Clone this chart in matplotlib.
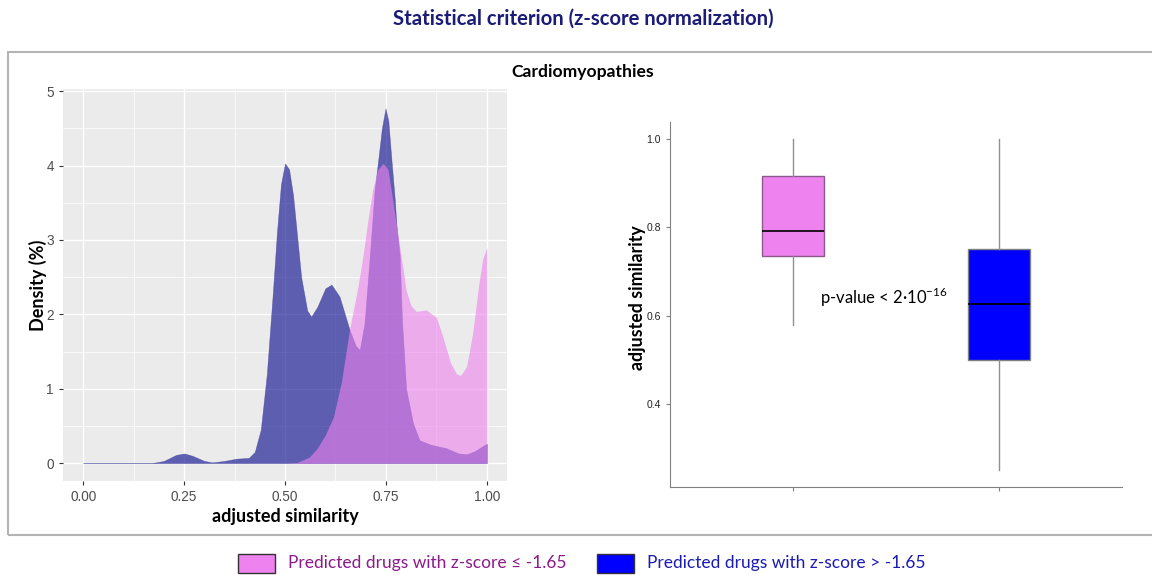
import matplotlib
matplotlib.use("Agg")
import matplotlib.pyplot as plt
from matplotlib.patches import Rectangle

plt.rcParams['font.family'] = ['Lato', 'DejaVu Sans']
plt.rcParams['mathtext.fontset'] = 'custom'
plt.rcParams['mathtext.rm'] = 'Lato'

# densites
x_blue = [0.00, 0.17, 0.20, 0.23, 0.25, 0.27, 0.30, 0.32, 0.35, 0.38, 0.41, 0.425, 0.44, 0.455,
          0.47, 0.48, 0.49, 0.50, 0.51, 0.52, 0.53, 0.54, 0.555, 0.565, 0.58, 0.60, 0.615, 0.635,
          0.66, 0.675, 0.685, 0.697, 0.71, 0.722, 0.73, 0.74, 0.749, 0.756, 0.763, 0.772, 0.776,
          0.784, 0.79, 0.80, 0.817, 0.833, 0.86, 0.90, 0.93, 0.95, 0.97, 0.99, 1.00]
y_blue = [0, 0, 0.03, 0.11, 0.13, 0.10, 0.03, 0.01, 0.03, 0.06, 0.07, 0.15, 0.45, 1.2,
          2.3, 3.1, 3.75, 4.03, 3.95, 3.6, 3.05, 2.5, 2.05, 1.97, 2.1, 2.35, 2.4, 2.24,
          1.79, 1.58, 1.52, 1.88, 2.78, 3.67, 4.03, 4.5, 4.77, 4.6, 4.12, 3.54, 3.2,
          2.8, 1.9, 1.0, 0.54, 0.31, 0.25, 0.2, 0.13, 0.12, 0.16, 0.23, 0.26]

x_pink = [0.00, 0.50, 0.53, 0.56, 0.58, 0.60, 0.62, 0.64, 0.66, 0.68, 0.693, 0.705, 0.717,
          0.73, 0.743, 0.755, 0.765, 0.776, 0.79, 0.80, 0.812, 0.825, 0.85, 0.875, 0.89, 0.91,
          0.925, 0.935, 0.95, 0.965, 0.98, 0.99, 1.00]
y_pink = [0, 0, 0.01, 0.08, 0.2, 0.38, 0.62, 1.1, 1.8, 2.35, 2.78, 3.25, 3.67,
          3.95, 4.03, 3.95, 3.6, 3.2, 2.7, 2.33, 2.12, 2.04, 2.06, 1.96, 1.72, 1.35,
          1.2, 1.18, 1.3, 1.75, 2.4, 2.75, 2.9]

# boxplot
groupes = ["z-score <= -1.65", "z-score > -1.65"]
whislo = [0.578, 0.25]
q1 = [0.735, 0.50]
med = [0.792, 0.626]
q3 = [0.915, 0.75]
whishi = [1.0, 1.0]

pink = "#EE82EE"
blue_dens = "#00008B"
blue_box = "#0000FF"

fig = plt.figure(figsize=(11.52, 5.75), dpi=100)

fig.text(0.506, 0.968, "Statistical criterion (z-score normalization)", ha="center", va="center",
         fontsize=14.6, fontweight="bold", color="#1B1B78")
fig.patches.append(Rectangle((0.0069, 0.0696), 1.0, 0.84, transform=fig.transFigure,
                             fill=False, edgecolor="#b4b4b4", lw=1.5))
fig.text(0.506, 0.875, "Cardiomyopathies", ha="center", va="center", fontsize=12.6, fontweight="bold")

# ---- densite (style ggplot)
ax1 = fig.add_axes([0.0547, 0.1635, 0.3854, 0.6817])
ax1.set_facecolor("#EBEBEB")
ax1.fill_between(x_blue, y_blue, color=blue_dens, alpha=0.6, lw=0.4, edgecolor="#3a3a9a")
ax1.fill_between(x_pink, y_pink, color=pink, alpha=0.6, lw=0)
ax1.set_xlim(-0.05, 1.05)
ax1.set_ylim(-0.24, 5.03)
ax1.set_xticks([0, 0.25, 0.5, 0.75, 1.0])
ax1.set_xticklabels(["0.00", "0.25", "0.50", "0.75", "1.00"])
ax1.set_yticks([0, 1, 2, 3, 4, 5])
ax1.set_xticks([0.125, 0.375, 0.625, 0.875], minor=True)
ax1.set_yticks([0.5, 1.5, 2.5, 3.5, 4.5], minor=True)
ax1.grid(True, which="major", color="white", lw=1.0)
ax1.grid(True, which="minor", color="white", lw=0.5)
ax1.set_axisbelow(True)
for s in ax1.spines.values():
    s.set_visible(False)
ax1.tick_params(which="major", length=3, color="#333333", labelcolor="#4D4D4D", labelsize=9.8)
ax1.tick_params(which="minor", length=0)
for lab in ax1.get_xticklabels() + ax1.get_yticklabels():
    lab.set_family("Liberation Sans")
ax1.set_xlabel("adjusted similarity", fontsize=13, fontweight="bold", labelpad=3)
ax1.set_ylabel("Density (%)", fontsize=13, fontweight="bold")
ax1.yaxis.set_label_coords(-0.036, 0.5)

# ---- boxplot
ax2 = fig.add_axes([0.5816, 0.153, 0.3924, 0.6348])
stats = []
for i in range(len(groupes)):
    stats.append({"label": groupes[i], "whislo": whislo[i], "q1": q1[i], "med": med[i],
                  "q3": q3[i], "whishi": whishi[i]})
bp = ax2.bxp(stats, positions=[1, 2], widths=0.3, patch_artist=True, showfliers=False,
             showcaps=False,
             medianprops=dict(color="black", lw=1.2),
             whiskerprops=dict(color="#909090", lw=1),
             boxprops=dict(edgecolor="#707070", lw=1))
bp["boxes"][0].set_facecolor(pink)
bp["boxes"][0].set_edgecolor("#8a5a8a")
bp["boxes"][1].set_facecolor(blue_box)
bp["boxes"][1].set_edgecolor("#808080")
ax2.set_xlim(0.4, 2.6)
ax2.set_ylim(0.2125, 1.0375)
ax2.set_yticks([0.4, 0.6, 0.8, 1.0])
ax2.set_yticklabels(["0.4", "0.6", "0.8", "1.0"])
ax2.set_xticks([1, 2])
ax2.set_xticklabels(["", ""])
ax2.spines["top"].set_visible(False)
ax2.spines["right"].set_visible(False)
ax2.spines["left"].set_color("#808080")
ax2.spines["bottom"].set_color("#808080")
ax2.tick_params(length=3, color="#808080", labelsize=7.5, labelcolor="#222222")
for lab in ax2.get_yticklabels():
    lab.set_family("Liberation Sans")
ax2.set_ylabel("adjusted similarity", fontsize=12.8, fontweight="bold")
ax2.yaxis.set_label_coords(-0.053, 0.52)
ax2.text(1.13, 0.641, r"p-value < 2·10$^{\mathrm{-16}}$", ha="left", va="center", fontsize=12)

# ---- legende
fig.patches.append(Rectangle((0.2066, 0.0035), 0.0321, 0.033, transform=fig.transFigure,
                             facecolor=pink, edgecolor="#333333", lw=1))
fig.text(0.25, 0.021, "Predicted drugs with z-score ≤ -1.65", ha="left", va="center",
         fontsize=12.5, color="#8B1A8B")
fig.patches.append(Rectangle((0.5182, 0.0035), 0.0321, 0.033, transform=fig.transFigure,
                             facecolor=blue_box, edgecolor="#333333", lw=1))
fig.text(0.5616, 0.021, "Predicted drugs with z-score > -1.65", ha="left", va="center",
         fontsize=12.5, color="#1A1AB4")

fig.savefig("out.png", dpi=100)
